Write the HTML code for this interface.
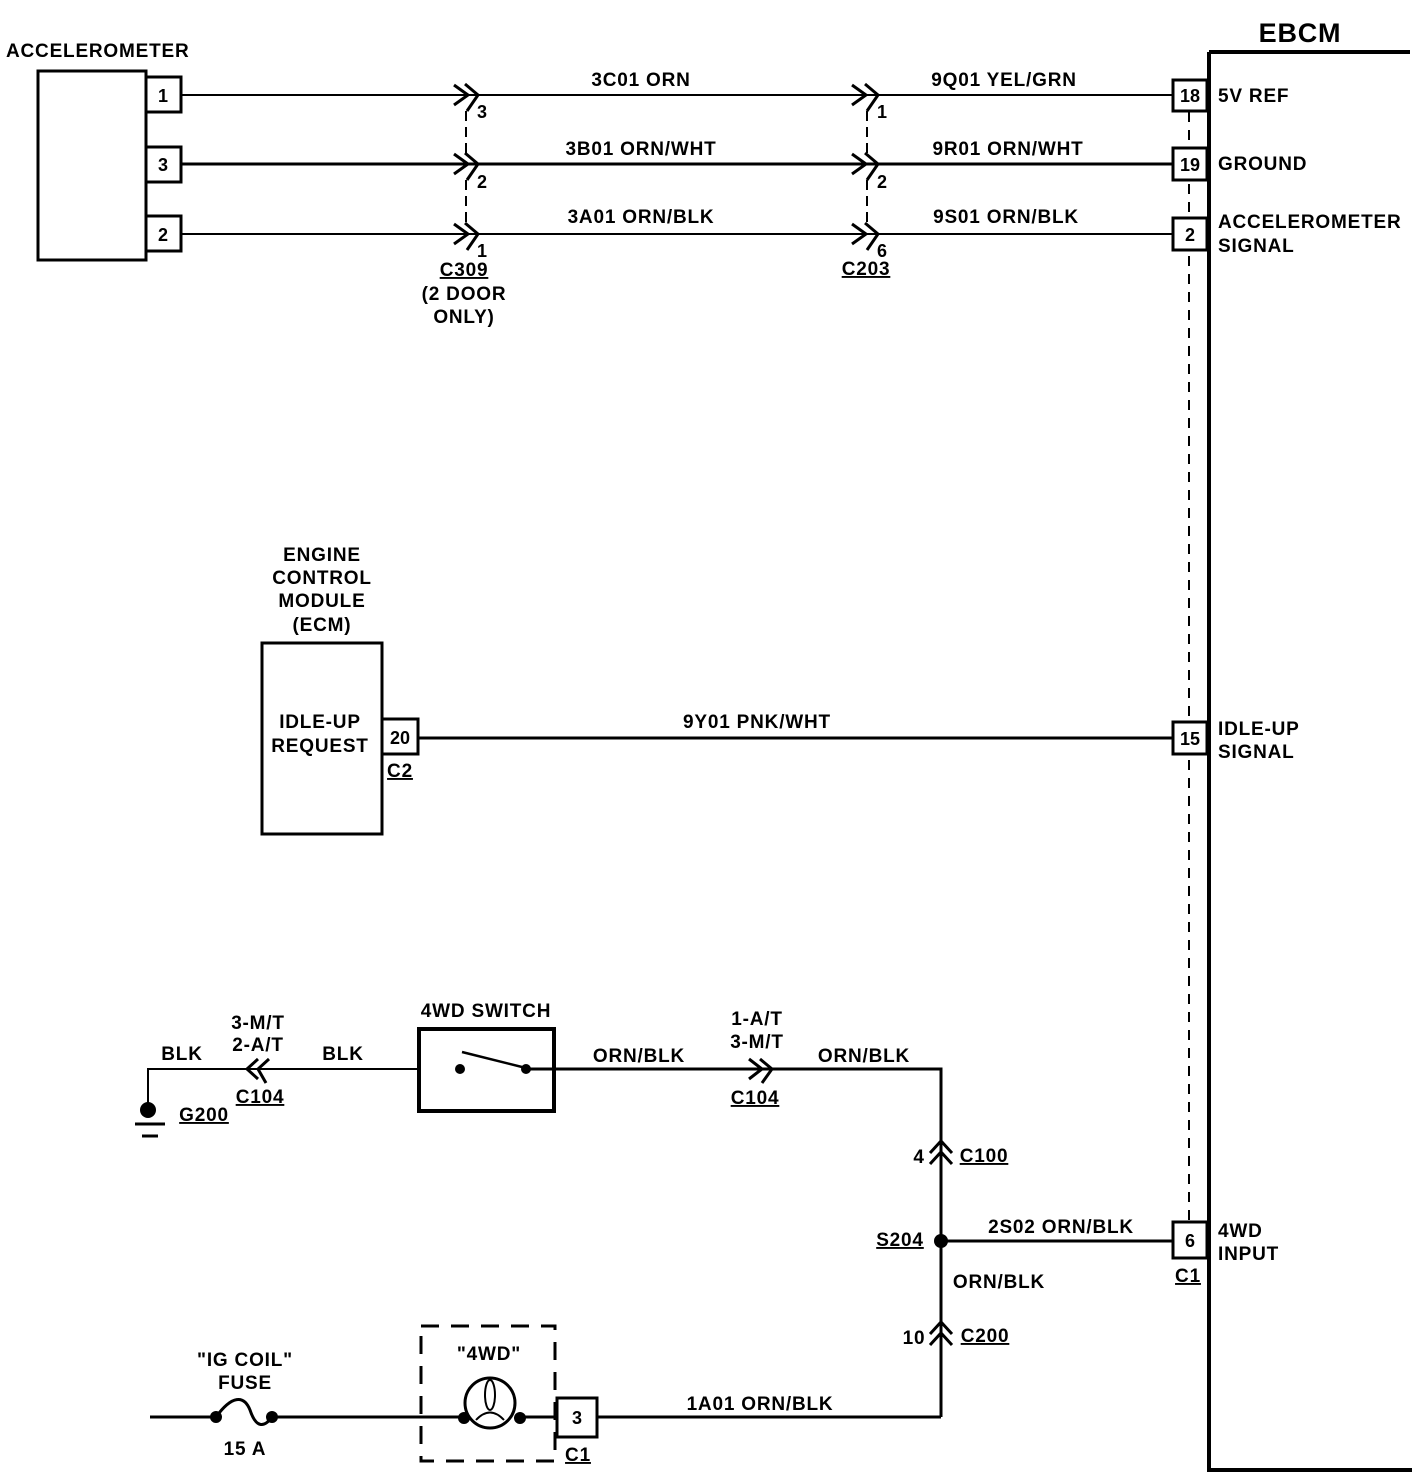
<!DOCTYPE html>
<html><head><meta charset="utf-8"><style>
html,body{margin:0;padding:0;background:#fff;}
svg{display:block;}
text{font-family:"Liberation Sans",sans-serif;font-weight:bold;font-size:19px;letter-spacing:0.8px;fill:#000;}
.u{text-decoration:underline;}
.p{font-size:18px;letter-spacing:0;}
</style></head><body>
<svg width="1424" height="1480" viewBox="0 0 1424 1480" xmlns="http://www.w3.org/2000/svg">
<g stroke="#000" fill="none" stroke-width="2">
<path d="M1209 52 H1410 M1209 52 V1470 H1412" stroke-width="4"/>
<path d="M1189 112 V1221" stroke-dasharray="10,8"/>
<g fill="#fff" stroke-width="3">
<rect x="1173" y="80" width="34" height="31"/>
<rect x="1173" y="148" width="34" height="32"/>
<rect x="1173" y="218" width="34" height="32"/>
<rect x="1173" y="722" width="34" height="32"/>
<rect x="1173" y="1222" width="34" height="36"/>
</g>
<rect x="38" y="71" width="108" height="189" stroke-width="3"/>
<rect x="146" y="77" width="35" height="35" stroke-width="3"/>
<rect x="146" y="147" width="35" height="35" stroke-width="3"/>
<rect x="146" y="216" width="35" height="35" stroke-width="3"/>
<path d="M181 95 H1173 M181 234 H1173"/>
<path d="M181 164 H1173" stroke-width="3"/>
<g stroke-width="3">
<path d="M454 85 L468 95 L454 105 M465 84 L478 95 L467 111"/>
<path d="M454 154 L468 164 L454 174 M465 153 L478 164 L467 180"/>
<path d="M454 224 L468 234 L454 244 M465 223 L478 234 L467 250"/>
<path d="M852 85 L866 95 L852 105 M865 84 L878 95 L867 111"/>
<path d="M852 154 L866 164 L852 174 M865 153 L878 164 L867 180"/>
<path d="M852 224 L866 234 L852 244 M865 223 L878 234 L867 250"/>
</g>
<path d="M466 111 V155 M466 180 V225 M867 111 V155 M867 180 V225" stroke-dasharray="10,6"/>
<rect x="262" y="643" width="120" height="191" stroke-width="3"/>
<rect x="382" y="719" width="36" height="35" stroke-width="3"/>
<path d="M418 738 H1173" stroke-width="3"/>
<path d="M148 1110 V1069 H418"/>
<path d="M135 1124 H165 M142 1136 H158" stroke-width="3"/>
<path d="M258 1059 L247 1069 L258 1079 M269 1059 L258 1069 L266 1083" stroke-width="3"/>
<rect x="419" y="1029" width="135" height="82" stroke-width="4"/>
<path d="M462 1052 L526 1068" stroke-width="2.5"/>
<path d="M526 1069 H941 V1417" stroke-width="3"/>
<path d="M749 1059 L762 1069 L749 1079 M760 1059 L772 1069 L762 1083" stroke-width="3"/>
<path d="M930 1153 L941 1141 L952 1153 M930 1164 L941 1152 L952 1164" stroke-width="3"/>
<path d="M930 1334 L941 1322 L952 1334 M930 1345 L941 1333 L952 1345" stroke-width="3"/>
<path d="M941 1241 H1173" stroke-width="3"/>
<path d="M150 1417 H216 M272 1417 H462 M520 1417 H556 M597 1417 H941" stroke-width="3"/>
<path d="M216 1417 C232 1395 244 1395 250 1410 C256 1428 264 1428 272 1417" stroke-width="3"/>
<rect x="421" y="1326" width="134" height="135" stroke-width="3" stroke-dasharray="18,12"/>
<circle cx="490" cy="1403" r="25" stroke-width="3"/>
<ellipse cx="490" cy="1395" rx="5" ry="15" stroke-width="2"/>
<path d="M476 1420 Q490 1405 504 1420" stroke-width="2"/>
<rect x="557" y="1398" width="40" height="39" stroke-width="3" fill="#fff"/>
</g>
<g fill="#000">
<circle cx="148" cy="1110" r="8"/>
<circle cx="460" cy="1069" r="5"/>
<circle cx="526" cy="1069" r="5"/>
<circle cx="941" cy="1241" r="7"/>
<circle cx="216" cy="1417" r="6"/>
<circle cx="272" cy="1417" r="6"/>
<circle cx="464" cy="1418" r="6"/>
<circle cx="520" cy="1418" r="6"/>
</g>
<g>
<text x="6" y="57">ACCELEROMETER</text>
<text x="163" y="102" text-anchor="middle" class="p">1</text>
<text x="163" y="171" text-anchor="middle" class="p">3</text>
<text x="163" y="241" text-anchor="middle" class="p">2</text>
<text x="477" y="118" class="p">3</text>
<text x="477" y="188" class="p">2</text>
<text x="477" y="257" class="p">1</text>
<text x="464" y="276" text-anchor="middle" class="u">C309</text>
<text x="464" y="300" text-anchor="middle">(2 DOOR</text>
<text x="464" y="323" text-anchor="middle">ONLY)</text>
<text x="877" y="118" class="p">1</text>
<text x="877" y="188" class="p">2</text>
<text x="877" y="257" class="p">6</text>
<text x="866" y="275" text-anchor="middle" class="u">C203</text>
<text x="641" y="86" text-anchor="middle">3C01 ORN</text>
<text x="641" y="155" text-anchor="middle">3B01 ORN/WHT</text>
<text x="641" y="223" text-anchor="middle">3A01 ORN/BLK</text>
<text x="1004" y="86" text-anchor="middle">9Q01 YEL/GRN</text>
<text x="1008" y="155" text-anchor="middle">9R01 ORN/WHT</text>
<text x="1006" y="223" text-anchor="middle">9S01 ORN/BLK</text>
<text x="1300" y="42" text-anchor="middle" style="font-size:27px">EBCM</text>
<text x="1190" y="102" text-anchor="middle" class="p">18</text>
<text x="1190" y="171" text-anchor="middle" class="p">19</text>
<text x="1190" y="241" text-anchor="middle" class="p">2</text>
<text x="1190" y="745" text-anchor="middle" class="p">15</text>
<text x="1190" y="1247" text-anchor="middle" class="p">6</text>
<text x="1218" y="102">5V REF</text>
<text x="1218" y="170">GROUND</text>
<text x="1218" y="228">ACCELEROMETER</text>
<text x="1218" y="252">SIGNAL</text>
<text x="1218" y="735">IDLE-UP</text>
<text x="1218" y="758">SIGNAL</text>
<text x="1218" y="1237">4WD</text>
<text x="1218" y="1260">INPUT</text>
<text x="1188" y="1282" text-anchor="middle" class="u">C1</text>
<text x="322" y="561" text-anchor="middle">ENGINE</text>
<text x="322" y="584" text-anchor="middle">CONTROL</text>
<text x="322" y="607" text-anchor="middle">MODULE</text>
<text x="322" y="631" text-anchor="middle">(ECM)</text>
<text x="320" y="728" text-anchor="middle">IDLE-UP</text>
<text x="320" y="752" text-anchor="middle">REQUEST</text>
<text x="400" y="744" text-anchor="middle" class="p">20</text>
<text x="400" y="777" text-anchor="middle" class="u">C2</text>
<text x="757" y="728" text-anchor="middle">9Y01 PNK/WHT</text>
<text x="486" y="1017" text-anchor="middle">4WD SWITCH</text>
<text x="182" y="1060" text-anchor="middle">BLK</text>
<text x="343" y="1060" text-anchor="middle">BLK</text>
<text x="258" y="1029" text-anchor="middle">3-M/T</text>
<text x="258" y="1051" text-anchor="middle">2-A/T</text>
<text x="260" y="1103" text-anchor="middle" class="u">C104</text>
<text x="204" y="1121" text-anchor="middle" class="u">G200</text>
<text x="639" y="1062" text-anchor="middle">ORN/BLK</text>
<text x="864" y="1062" text-anchor="middle">ORN/BLK</text>
<text x="757" y="1025" text-anchor="middle">1-A/T</text>
<text x="757" y="1048" text-anchor="middle">3-M/T</text>
<text x="755" y="1104" text-anchor="middle" class="u">C104</text>
<text x="919" y="1163" text-anchor="middle">4</text>
<text x="984" y="1162" text-anchor="middle" class="u">C100</text>
<text x="900" y="1246" text-anchor="middle" class="u">S204</text>
<text x="1061" y="1233" text-anchor="middle">2S02 ORN/BLK</text>
<text x="999" y="1288" text-anchor="middle">ORN/BLK</text>
<text x="914" y="1344" text-anchor="middle">10</text>
<text x="985" y="1342" text-anchor="middle" class="u">C200</text>
<text x="245" y="1366" text-anchor="middle">"IG COIL"</text>
<text x="245" y="1389" text-anchor="middle">FUSE</text>
<text x="245" y="1455" text-anchor="middle">15 A</text>
<text x="489" y="1360" text-anchor="middle">"4WD"</text>
<text x="577" y="1424" text-anchor="middle" class="p">3</text>
<text x="578" y="1461" text-anchor="middle" class="u">C1</text>
<text x="760" y="1410" text-anchor="middle">1A01 ORN/BLK</text>
</g>
</svg>
</body></html>
